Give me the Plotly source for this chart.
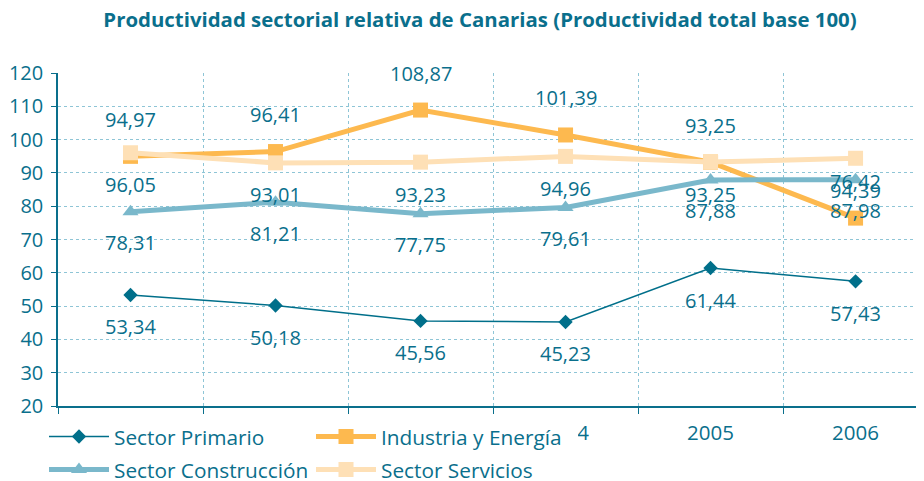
import plotly.graph_objects as go

years = ["2001", "2002", "2003", "2004", "2005", "2006"]
primario = [53.34, 50.18, 45.56, 45.23, 61.44, 57.43]
industria = [94.97, 96.41, 108.87, 101.39, 93.25, 76.42]
construccion = [78.31, 81.21, 77.75, 79.61, 87.88, 87.98]
servicios = [96.05, 93.01, 93.23, 94.96, 93.25, 94.39]

TEXT = "#0a6f8c"
C_PRIM = "#006f8a"
C_IND = "#fdb94f"
C_CON = "#7ab8cb"
C_SER = "#fee0b6"
GRID = "#8ec5d6"
FONT = "Open Sans"

fig = go.Figure()
fig.add_trace(go.Scatter(x=years, y=primario, name="Sector Primario", mode="lines+markers",
                         line=dict(color=C_PRIM, width=1.5),
                         marker=dict(symbol="diamond", size=11, color=C_PRIM), legend="legend"))
fig.add_trace(go.Scatter(x=years, y=industria, name="Industria y Energía", mode="lines+markers",
                         line=dict(color=C_IND, width=5),
                         marker=dict(symbol="square", size=15, color=C_IND), legend="legend"))
fig.add_trace(go.Scatter(x=years, y=construccion, name="Sector Construcción", mode="lines+markers",
                         line=dict(color=C_CON, width=5),
                         marker=dict(symbol="triangle-up", size=14, color=C_CON), legend="legend2"))
fig.add_trace(go.Scatter(x=years, y=servicios, name="Sector Servicios", mode="lines+markers",
                         line=dict(color=C_SER, width=5),
                         marker=dict(symbol="square", size=15, color=C_SER), legend="legend2"))

def fmt(v):
    return f"{v:.2f}".replace(".", ",")

for series, shift in [(industria, 37), (servicios, -32), (construccion, -31), (primario, -32)]:
    for i, yv in enumerate(series):
        fig.add_annotation(x=i, y=yv, xref="x", yref="y", text=fmt(yv), showarrow=False, yshift=shift,
                           font=dict(family=FONT, size=20, color=TEXT))

leg_common = dict(orientation="h", bgcolor="white", font=dict(family=FONT, size=20.8, color=TEXT),
                  xanchor="left", yanchor="middle",
                  entrywidth=192, itemwidth=60, itemclick=False)

fig.update_layout(
    width=916, height=473,
    margin=dict(l=50, r=0, t=65, b=75, autoexpand=False),
    paper_bgcolor="white", plot_bgcolor="white",
    title=dict(text="<b>Productividad sectorial relativa de Canarias (Productividad total base 100)</b>",
               x=472 / 916, xanchor="center", y=1 - 12 / 473, yanchor="middle", xref="container", yref="container",
               font=dict(family=FONT, size=20.4, color=TEXT)),
    xaxis=dict(type="category", range=[-0.5, 5.472], tickson="boundaries", showgrid=True,
               gridcolor=GRID, griddash="dot", gridwidth=1,
               showline=True, linecolor=TEXT, linewidth=1.5,
               ticks="outside", ticklen=6, tickcolor=TEXT, ticklabelstandoff=8,
               tickfont=dict(family=FONT, size=20.5, color=TEXT), fixedrange=True),
    yaxis=dict(range=[20, 120], dtick=10, showgrid=True, gridcolor=GRID, griddash="dot", gridwidth=1,
               showline=True, linecolor=TEXT, linewidth=1.5,
               ticks="outside", ticklen=5, tickcolor=TEXT, ticklabelstandoff=4,
               tickfont=dict(family=FONT, size=20, color=TEXT), zeroline=False, fixedrange=True),
    legend=dict(x=-14 / 866, y=-31 / 333, **leg_common),
    legend2=dict(x=-14 / 866, y=-64 / 333, **leg_common),
    showlegend=True,
)

fig.write_html("out.html")
